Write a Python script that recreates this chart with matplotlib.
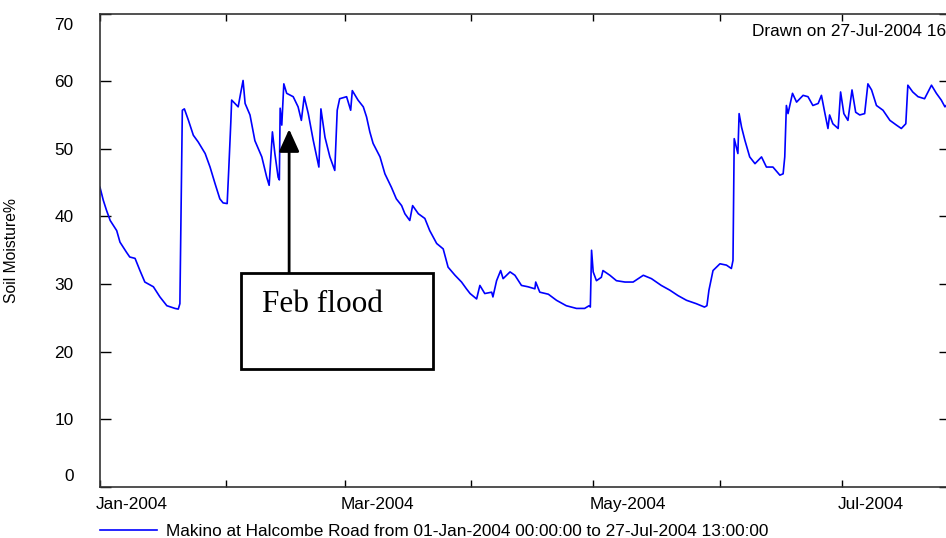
import pandas as pd
import matplotlib.pyplot as plt
import matplotlib.dates as mdates
from matplotlib.patches import Rectangle
from matplotlib.transforms import ScaledTranslation

plt.rcParams.update({
    "font.family": "Liberation Sans",
    "font.size": 12.4,
    "axes.edgecolor": "#333333",
    "axes.linewidth": 1.2,
})

# readings, days after 01-Jan-2004 00:00
START = pd.Timestamp("2004-01-01 00:00")
END = pd.Timestamp("2004-07-27 13:00")

DAYS = [
    0.0, 0.8, 1.6, 2.5, 4.1, 4.9, 6.5, 7.3, 8.6, 9.8, 11.0, 13.1, 14.7, 16.4,
    18.4, 19.2, 19.6, 20.2, 20.7, 21.7, 22.9, 24.1, 25.8, 27.0, 28.2, 29.4,
    30.2, 31.2, 31.6, 32.1, 32.3, 33.1, 33.9, 34.5, 35.1, 35.6, 36.8, 38.0,
    39.7, 40.9, 41.5, 42.3, 42.9, 43.7, 44.0, 44.2, 44.6, 45.1, 45.8, 47.4,
    48.6, 49.4, 50.1, 51.1, 52.3, 53.7, 54.2, 55.2, 56.4, 57.6, 58.2, 58.8,
    60.5, 61.5, 61.9, 63.3, 64.6, 65.4, 66.2, 67.0, 68.7, 69.9, 71.5, 72.7,
    74.0, 74.8, 76.0, 76.7, 78.1, 79.7, 80.9, 82.6, 84.2, 85.4, 87.1, 88.7,
    89.9, 90.8, 92.4, 93.2, 94.4, 96.1, 96.4, 97.3, 98.3, 98.9, 100.6, 101.8,
    103.4, 105.0, 106.7, 106.9, 107.9, 110.0, 112.0, 114.4, 116.9, 118.9,
    120.0, 120.3, 120.6, 121.0, 121.8, 123.0, 123.4, 125.1, 126.7, 128.8,
    130.8, 133.3, 135.3, 137.7, 139.8, 141.8, 143.9, 146.3, 148.3, 148.9,
    149.4, 150.4, 152.1, 153.7, 154.9, 155.3, 155.6, 156.1, 156.5, 156.8,
    157.4, 158.2, 159.4, 160.7, 162.3, 163.5, 165.1, 166.8, 167.6, 168.0,
    168.4, 168.8, 169.9, 170.9, 172.5, 173.7, 174.9, 176.2, 177.0, 177.8,
    178.6, 179.0, 179.8, 181.1, 181.7, 182.5, 183.5, 184.5, 185.4, 186.4,
    187.6, 188.4, 189.3, 190.5, 192.1, 193.8, 195.4, 196.6, 197.7, 198.2,
    199.4, 200.7, 202.3, 204.0, 205.2, 206.4, 207.3, 208.5,
]

MOISTURE = [
    44.3, 42.4, 40.9, 39.4, 37.9, 36.2, 34.7, 34.0, 33.8, 32.0, 30.3, 29.6,
    28.1, 26.8, 26.4, 26.3, 27.1, 55.7, 55.9, 54.2, 52.0, 51.0, 49.3, 47.3,
    44.9, 42.6, 42.0, 41.9, 47.1, 54.0, 57.2, 56.7, 56.2, 58.2, 60.1, 56.7,
    55.0, 51.2, 48.8, 45.8, 44.6, 52.5, 49.3, 45.8, 45.4, 56.0, 53.5, 59.6,
    58.2, 57.7, 56.2, 54.2, 57.7, 55.2, 51.3, 47.3, 55.9, 51.7, 48.8, 46.8,
    55.7, 57.4, 57.7, 55.7, 58.6, 57.2, 56.2, 54.7, 52.5, 50.8, 48.8, 46.3,
    44.3, 42.6, 41.6, 40.4, 39.4, 41.6, 40.4, 39.7, 37.9, 36.0, 35.2, 32.5,
    31.3, 30.3, 29.3, 28.6, 27.8, 29.8, 28.6, 28.8, 28.1, 30.5, 32.0, 30.8,
    31.8, 31.3, 29.8, 29.6, 29.3, 30.3, 28.8, 28.5, 27.6, 26.8, 26.4, 26.4,
    26.8, 26.6, 35.0, 31.8, 30.5, 31.0, 32.0, 31.3, 30.5, 30.3, 30.3, 31.3,
    30.8, 29.8, 29.1, 28.3, 27.6, 27.1, 26.6, 26.8, 29.1, 32.0, 33.0, 32.8,
    32.3, 33.5, 51.5, 50.3, 49.3, 55.2, 53.2, 51.3, 48.8, 47.8, 48.8, 47.3,
    47.3, 46.1, 46.3, 48.8, 56.4, 55.2, 58.2, 56.9, 57.9, 57.7, 56.4, 56.7,
    57.9, 55.4, 53.0, 55.0, 53.7, 53.0, 58.4, 55.2, 54.2, 58.7, 55.4, 55.0,
    55.2, 59.6, 58.7, 56.4, 55.7, 54.2, 53.5, 53.0, 53.7, 59.4, 58.4, 57.7,
    57.4, 59.4, 58.2, 57.2, 56.2, 57.0,
]

Y_TICKS = [0, 10, 20, 30, 40, 50, 60, 70]
SERIES_LABEL = "Makino at Halcombe Road from 01-Jan-2004 00:00:00 to 27-Jul-2004 13:00:00"
DRAWN_TEXT = "Drawn on 27-Jul-2004 16"

# annotation: box corners and arrow, in days / %
BOX_DAYS = (34.6, 81.7)
BOX_VALUES = (17.5, 31.7)
ARROW_DAY = 46.4
ARROW_TIP = 52.9

times = START + pd.to_timedelta(DAYS, unit="D")

fig = plt.figure(figsize=(9.46, 5.38), dpi=100)
ax = fig.add_axes([100 / 946, 1 - 487 / 538, 850 / 946, 473.5 / 538])

ax.plot(times, MOISTURE, color="#0000ff", linewidth=1.2, label=SERIES_LABEL)

ax.set_xlim(START, END)
ax.set_ylim(0, 70)
ax.set_yticks(Y_TICKS)

ax.xaxis.set_major_locator(mdates.MonthLocator(bymonth=[1, 3, 5, 7]))
ax.xaxis.set_minor_locator(mdates.MonthLocator())
ax.xaxis.set_major_formatter(mdates.DateFormatter("%b-%Y"))

ax.tick_params(axis="y", direction="in", length=8, width=1, right=True,
               pad=19, labelsize=12.4)
ax.tick_params(axis="x", which="both", direction="in", length=5, width=1,
               top=True, pad=7, labelsize=12.4)

for lab in ax.get_xticklabels():
    lab.set_ha("left")
    lab.set_transform(lab.get_transform()
                      + ScaledTranslation(-0.04, 0, fig.dpi_scale_trans))

ylabs = ax.get_yticklabels()
ylabs[0].set_transform(ylabs[0].get_transform()
                       + ScaledTranslation(0, 0.12, fig.dpi_scale_trans))
ylabs[-1].set_transform(ylabs[-1].get_transform()
                        + ScaledTranslation(0, -0.105, fig.dpi_scale_trans))

ax.set_ylabel("Soil Moisture%", fontsize=11.3)
ax.yaxis.set_label_coords(-0.095, 0.50)

# Feb flood annotation
x0 = mdates.date2num(START + pd.Timedelta(days=BOX_DAYS[0]))
x1 = mdates.date2num(START + pd.Timedelta(days=BOX_DAYS[1]))
ax.add_patch(Rectangle((x0, BOX_VALUES[0]), x1 - x0, BOX_VALUES[1] - BOX_VALUES[0],
                       fill=False, edgecolor="black", linewidth=2, zorder=3))
ax.text(x0 + (x1 - x0) * 0.11, 27.0, "Feb flood", family="Liberation Serif",
        fontsize=22.5, va="center", ha="left", color="black")
xa = mdates.date2num(START + pd.Timedelta(days=ARROW_DAY))
ax.annotate("", xy=(xa, ARROW_TIP), xytext=(xa, BOX_VALUES[1]),
            arrowprops=dict(arrowstyle="-|>,head_length=1.1,head_width=0.5",
                            color="black", linewidth=2, shrinkA=0, shrinkB=0))

fig.text(752 / 946, 1 - 31 / 538, DRAWN_TEXT, fontsize=12.4, ha="left", va="center")

ax.legend(loc="center left", bbox_to_anchor=(100 / 946, 1 - 531 / 538),
          bbox_transform=fig.transFigure, frameon=False, fontsize=12.4,
          handlelength=3.3, handletextpad=0.55, borderpad=0, borderaxespad=0)

plt.savefig("out.png", dpi=100)
